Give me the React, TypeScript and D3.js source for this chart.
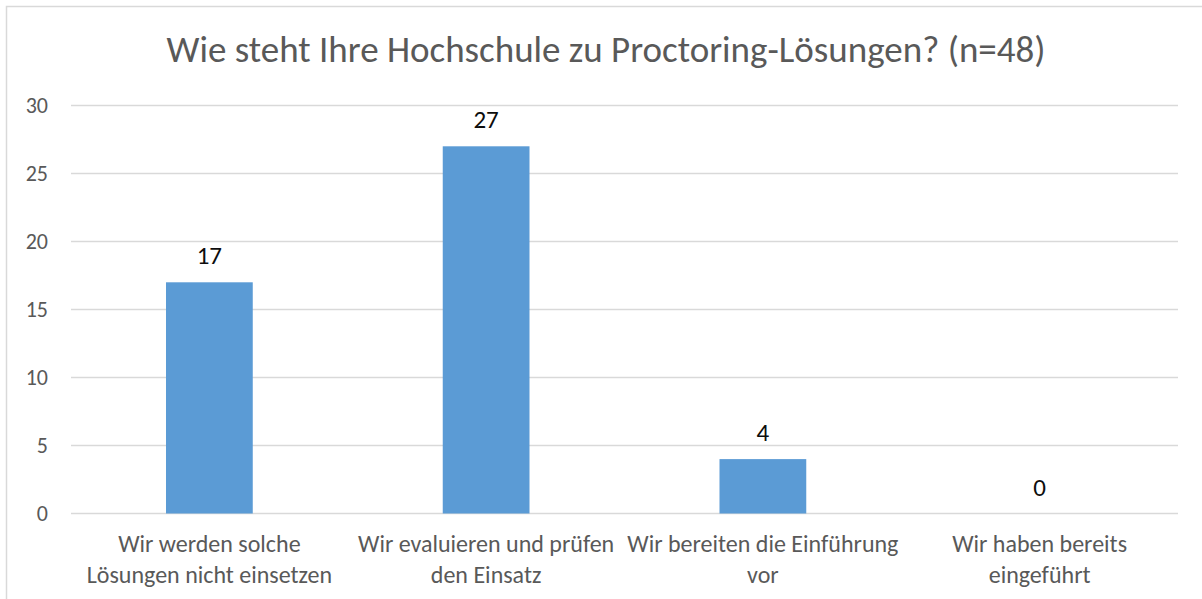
import React from "react";
import * as d3 from "d3";

const title = "Wie steht Ihre Hochschule zu Proctoring-Lösungen? (n=48)";
const categories = [
  "Wir werden solche|Lösungen nicht einsetzen",
  "Wir evaluieren und prüfen|den Einsatz",
  "Wir bereiten die Einführung|vor",
  "Wir haben bereits|eingeführt",
];
const values = [17, 27, 4, 0];
const yTicks = [0, 5, 10, 15, 20, 25, 30];

const W = 1202;
const H = 599;
const FONT = "Carlito, Lato, 'Open Sans', sans-serif";

export default function App() {
  const left = 71;
  const right = 1178;
  const top = 105.5;
  const bottom = 513.5;
  const x = d3.scaleBand<number>().domain(d3.range(categories.length)).range([left, right]).paddingInner(0).paddingOuter(0);
  const y = d3.scaleLinear().domain([0, 30]).range([bottom, top]);
  const bw = x.bandwidth() / 3.19;

  return (
    <svg width={W} height={H} style={{ position: "absolute", left: 0, top: 0, background: "#fff" }} fontFamily={FONT}>
      <rect x={6.5} y={6.5} width={W} height={H} fill="#fff" stroke="#D9D9D9" strokeWidth={1.5} />
      <text x={606} y={62} textAnchor="middle" fontSize={37} fill="#595959">
        {title}
      </text>
      {yTicks.map((t) => (
        <g key={t}>
          <line x1={left} x2={right} y1={y(t)} y2={y(t)} stroke="#D9D9D9" strokeWidth={1.5} />
          <text x={48} y={y(t) + 7.5} textAnchor="end" fontSize={22} fill="#595959">
            {t}
          </text>
        </g>
      ))}
      {values.map((v, i) => {
        const cx = (x(i) as number) + x.bandwidth() / 2;
        return (
          <g key={i}>
            {v > 0 && (
              <rect x={cx - bw / 2} y={y(v)} width={bw} height={y(0) - y(v)} fill="#5B9BD5" />
            )}
            <text x={cx} y={y(v) - 18} textAnchor="middle" fontSize={25} fill="#0D0D0D">
              {v}
            </text>
            {categories[i].split("|").map((ln, k) => (
              <text key={k} x={cx} y={552 + k * 31} textAnchor="middle" fontSize={24} fill="#595959">
                {ln}
              </text>
            ))}
          </g>
        );
      })}
    </svg>
  );
}
